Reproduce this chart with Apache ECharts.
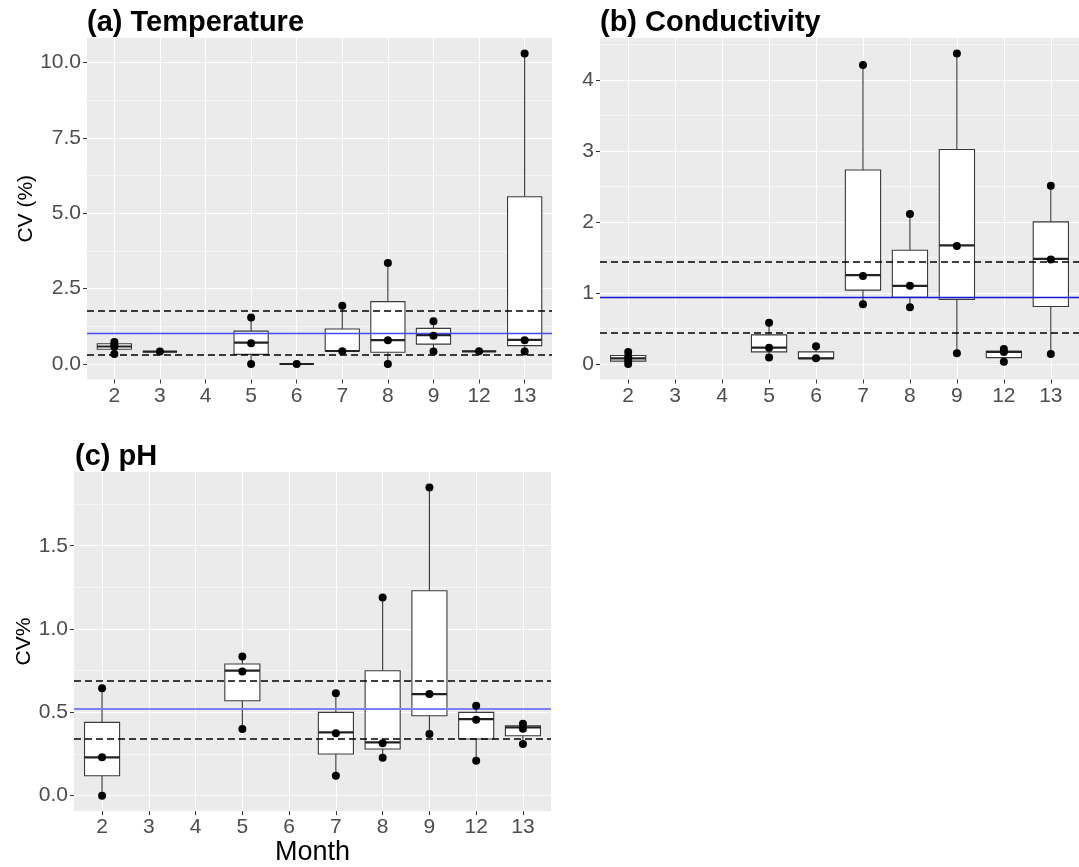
<!DOCTYPE html>
<html>
<head>
<meta charset="utf-8">
<script src="https://cdn.jsdelivr.net/npm/echarts@6/dist/echarts.min.js"></script>
<style>
  html, body { margin: 0; padding: 0; background: #fff; }
  #chart { width: 1079px; height: 867px; }
</style>
</head>
<body>
<div id="chart"></div>
<script>
// month categories on the x axis
const months = ['2', '3', '4', '5', '6', '7', '8', '9', '12', '13'];

// (a) Temperature: box stats [min, Q1, median, Q3, max] per month, null = no data
const tempBoxes = [
  [0.33, 0.49, 0.58, 0.67, 0.74],
  [0.41, 0.41, 0.41, 0.41, 0.41],
  null,
  [0.0, 0.32, 0.71, 1.09, 1.54],
  [0.0, 0.0, 0.0, 0.0, 0.0],
  [0.42, 0.43, 0.43, 1.16, 1.93],
  [0.0, 0.39, 0.79, 2.07, 3.35],
  [0.41, 0.66, 0.96, 1.18, 1.42],
  [0.42, 0.42, 0.42, 0.42, 0.42],
  [0.41, 0.61, 0.80, 5.55, 10.3]
];
const tempPoints = [
  [0.33, 0.57, 0.63, 0.73],
  [0.41],
  [],
  [0.0, 0.69, 1.54],
  [0.0],
  [0.42, 1.93],
  [0.0, 0.79, 3.35],
  [0.41, 0.94, 1.42],
  [0.42],
  [0.41, 0.79, 10.3]
];
const tempRefs = { upper: 1.77, mean: 1.02, lower: 0.29 };

// (b) Conductivity
const condBoxes = [
  [0.0, 0.04, 0.08, 0.12, 0.18],
  null,
  null,
  [0.09, 0.17, 0.23, 0.41, 0.58],
  [0.08, 0.08, 0.08, 0.17, 0.25],
  [0.84, 1.04, 1.25, 2.73, 4.21],
  [0.80, 0.94, 1.10, 1.60, 2.11],
  [0.15, 0.91, 1.67, 3.02, 4.37],
  [0.03, 0.09, 0.17, 0.18, 0.21],
  [0.14, 0.81, 1.48, 2.0, 2.51]
];
const condPoints = [
  [0.0, 0.05, 0.1, 0.17],
  [],
  [],
  [0.09, 0.23, 0.58],
  [0.08, 0.25],
  [0.84, 1.24, 4.21],
  [0.80, 1.10, 2.11],
  [0.15, 1.66, 4.37],
  [0.03, 0.17, 0.21],
  [0.14, 1.47, 2.51]
];
const condRefs = { upper: 1.44, mean: 0.94, lower: 0.44 };

// (c) pH
const phBoxes = [
  [0.0, 0.12, 0.23, 0.44, 0.65],
  null,
  null,
  [0.40, 0.57, 0.75, 0.79, 0.84],
  null,
  [0.12, 0.25, 0.38, 0.50, 0.62],
  [0.23, 0.28, 0.32, 0.75, 1.19],
  [0.37, 0.48, 0.61, 1.23, 1.85],
  [0.21, 0.34, 0.46, 0.50, 0.54],
  [0.31, 0.36, 0.41, 0.42, 0.43]
];
const phPoints = [
  [0.0, 0.23, 0.645],
  [],
  [],
  [0.40, 0.745, 0.835],
  [],
  [0.12, 0.375, 0.615],
  [0.227, 0.315, 1.19],
  [0.37, 0.61, 1.85],
  [0.21, 0.455, 0.54],
  [0.31, 0.402, 0.432]
];
const phRefs = { upper: 0.69, mean: 0.515, lower: 0.345 };

const FONT = '"Liberation Sans", Arial, sans-serif';

const panels = [
  { title: '(a) Temperature', yName: 'CV (%)', nameGap: 50, boxes: tempBoxes, points: tempPoints, refs: tempRefs,
    major: [0, 2.5, 5, 7.5, 10], minor: [1.25, 3.75, 6.25, 8.75], fmt: v => v.toFixed(1),
    blue: { color: '#4a4af5', width: 1.3 },
    grid: { left: 87, top: 38, width: 465, height: 341.5 }, titlePos: { left: 87, top: 8 } },
  { title: '(b) Conductivity', yName: '', nameGap: 40, boxes: condBoxes, points: condPoints, refs: condRefs,
    major: [0, 1, 2, 3, 4], minor: [0.5, 1.5, 2.5, 3.5, 4.5], fmt: v => String(v),
    blue: { color: '#1515e0', width: 1.3 },
    grid: { left: 600, top: 38, width: 498, height: 341.5 }, titlePos: { left: 600, top: 8 } },
  { title: '(c) pH', yName: 'CV%', nameGap: 37, boxes: phBoxes, points: phPoints, refs: phRefs,
    major: [0, 0.5, 1, 1.5], minor: [0.25, 0.75, 1.25, 1.75], fmt: v => v.toFixed(1),
    blue: { color: '#7f7ff9', width: 2 },
    grid: { left: 74, top: 472, width: 477, height: 340 }, titlePos: { left: 75, top: 442 }, xName: 'Month' }
];

function renderBox(params, api) {
  const x = api.value(0);
  const lo = api.coord([x, api.value(1)]);
  const q1 = api.coord([x, api.value(2)]);
  const md = api.coord([x, api.value(3)]);
  const q3 = api.coord([x, api.value(4)]);
  const hi = api.coord([x, api.value(5)]);
  const w = api.size([0.75, 0])[0];
  const h = w / 2;
  return {
    type: 'group',
    children: [
      { type: 'line', shape: { x1: lo[0], y1: lo[1], x2: q1[0], y2: q1[1] }, style: { stroke: '#333', lineWidth: 1.1 } },
      { type: 'line', shape: { x1: q3[0], y1: q3[1], x2: hi[0], y2: hi[1] }, style: { stroke: '#333', lineWidth: 1.1 } },
      { type: 'rect', shape: { x: q3[0] - h, y: q3[1], width: w, height: q1[1] - q3[1] },
        style: { fill: '#fff', stroke: '#3a3a3a', lineWidth: 1.1 } },
      { type: 'line', shape: { x1: md[0] - h, y1: md[1], x2: md[0] + h, y2: md[1] }, style: { stroke: '#222', lineWidth: 2.2 } }
    ]
  };
}

const grids = [], xAxes = [], yAxes = [], titles = [], series = [];
const labelColor = '#4d4d4d';
const idx = months.map((m, i) => i);

panels.forEach((p, k) => {
  grids.push(Object.assign({ show: true, backgroundColor: '#ebebeb', borderWidth: 0, containLabel: false }, p.grid));
  titles.push({
    text: p.title, left: p.titlePos.left, top: p.titlePos.top, padding: 0,
    textStyle: { fontFamily: FONT, fontSize: 29, fontWeight: 'bold', color: '#000' }
  });

  // y range like ggplot: data range expanded 5% on each side
  const all = [];
  p.boxes.forEach(b => { if (b) all.push(...b); });
  p.points.forEach(a => all.push(...a));
  all.push(p.refs.upper, p.refs.mean, p.refs.lower);
  const lo = Math.min(...all), hi = Math.max(...all);
  const pad = (hi - lo) * 0.05;

  xAxes.push({
    type: 'value', gridIndex: k, min: -0.6, max: 9.6,
    name: p.xName || '', nameLocation: 'middle', nameGap: 23,
    nameTextStyle: { fontFamily: FONT, fontSize: 27, color: '#000' },
    axisLine: { show: false, onZero: false },
    axisTick: { show: true, length: 4, lineStyle: { color: '#333', width: 1 }, customValues: idx },
    axisLabel: { show: true, customValues: idx, margin: 6, color: labelColor, fontFamily: FONT, fontSize: 21,
      formatter: v => months[Math.round(v)] },
    splitLine: { show: true, lineStyle: { color: '#fff', width: 1.1 } }
  });
  yAxes.push({
    type: 'value', gridIndex: k, min: lo - pad, max: hi + pad,
    name: p.yName, nameLocation: 'middle', nameGap: p.nameGap, nameRotate: 90,
    nameTextStyle: { fontFamily: FONT, fontSize: 21, color: '#000' },
    axisLine: { show: false, onZero: false },
    axisTick: { show: true, length: 4, lineStyle: { color: '#333', width: 1 }, customValues: p.major },
    axisLabel: { show: true, customValues: p.major, margin: 6, color: labelColor, fontFamily: FONT, fontSize: 21,
      formatter: p.fmt },
    splitLine: { show: true, lineStyle: { color: '#fff', width: 1.1 } }
  });
  // second y axis only for the thin minor grid lines
  yAxes.push({
    type: 'value', gridIndex: k, min: lo - pad, max: hi + pad, position: 'left',
    axisLine: { show: false, onZero: false }, axisLabel: { show: false },
    axisTick: { show: false, customValues: p.minor },
    splitLine: { show: true, lineStyle: { color: '#fff', width: 0.6 } }
  });

  const boxData = [];
  p.boxes.forEach((b, i) => { if (b) boxData.push([i].concat(b)); });
  const ptData = [];
  p.points.forEach((a, i) => a.forEach(v => ptData.push([i, v])));

  series.push({
    type: 'custom', xAxisIndex: k, yAxisIndex: 2 * k, z: 2,
    renderItem: renderBox, data: boxData, encode: { x: 0, y: [1, 2, 3, 4, 5] },
    markLine: {
      silent: true, symbol: 'none', z: 3, label: { show: false },
      data: [
        { yAxis: p.refs.upper, lineStyle: { color: '#000', width: 1.6, type: [7, 4] } },
        { yAxis: p.refs.lower, lineStyle: { color: '#000', width: 1.6, type: [7, 4] } },
        { yAxis: p.refs.mean, lineStyle: { color: p.blue.color, width: p.blue.width, type: 'solid' } }
      ]
    }
  });
  series.push({
    type: 'scatter', xAxisIndex: k, yAxisIndex: 2 * k, z: 8,
    symbol: 'circle', symbolSize: 8, itemStyle: { color: '#000', opacity: 1 }, data: ptData
  });
});

const chart = echarts.init(document.getElementById('chart'), null, { renderer: 'canvas' });
chart.setOption({
  animation: false,
  backgroundColor: '#fff',
  title: titles,
  grid: grids,
  xAxis: xAxes,
  yAxis: yAxes,
  series: series
});
</script>
</body>
</html>
